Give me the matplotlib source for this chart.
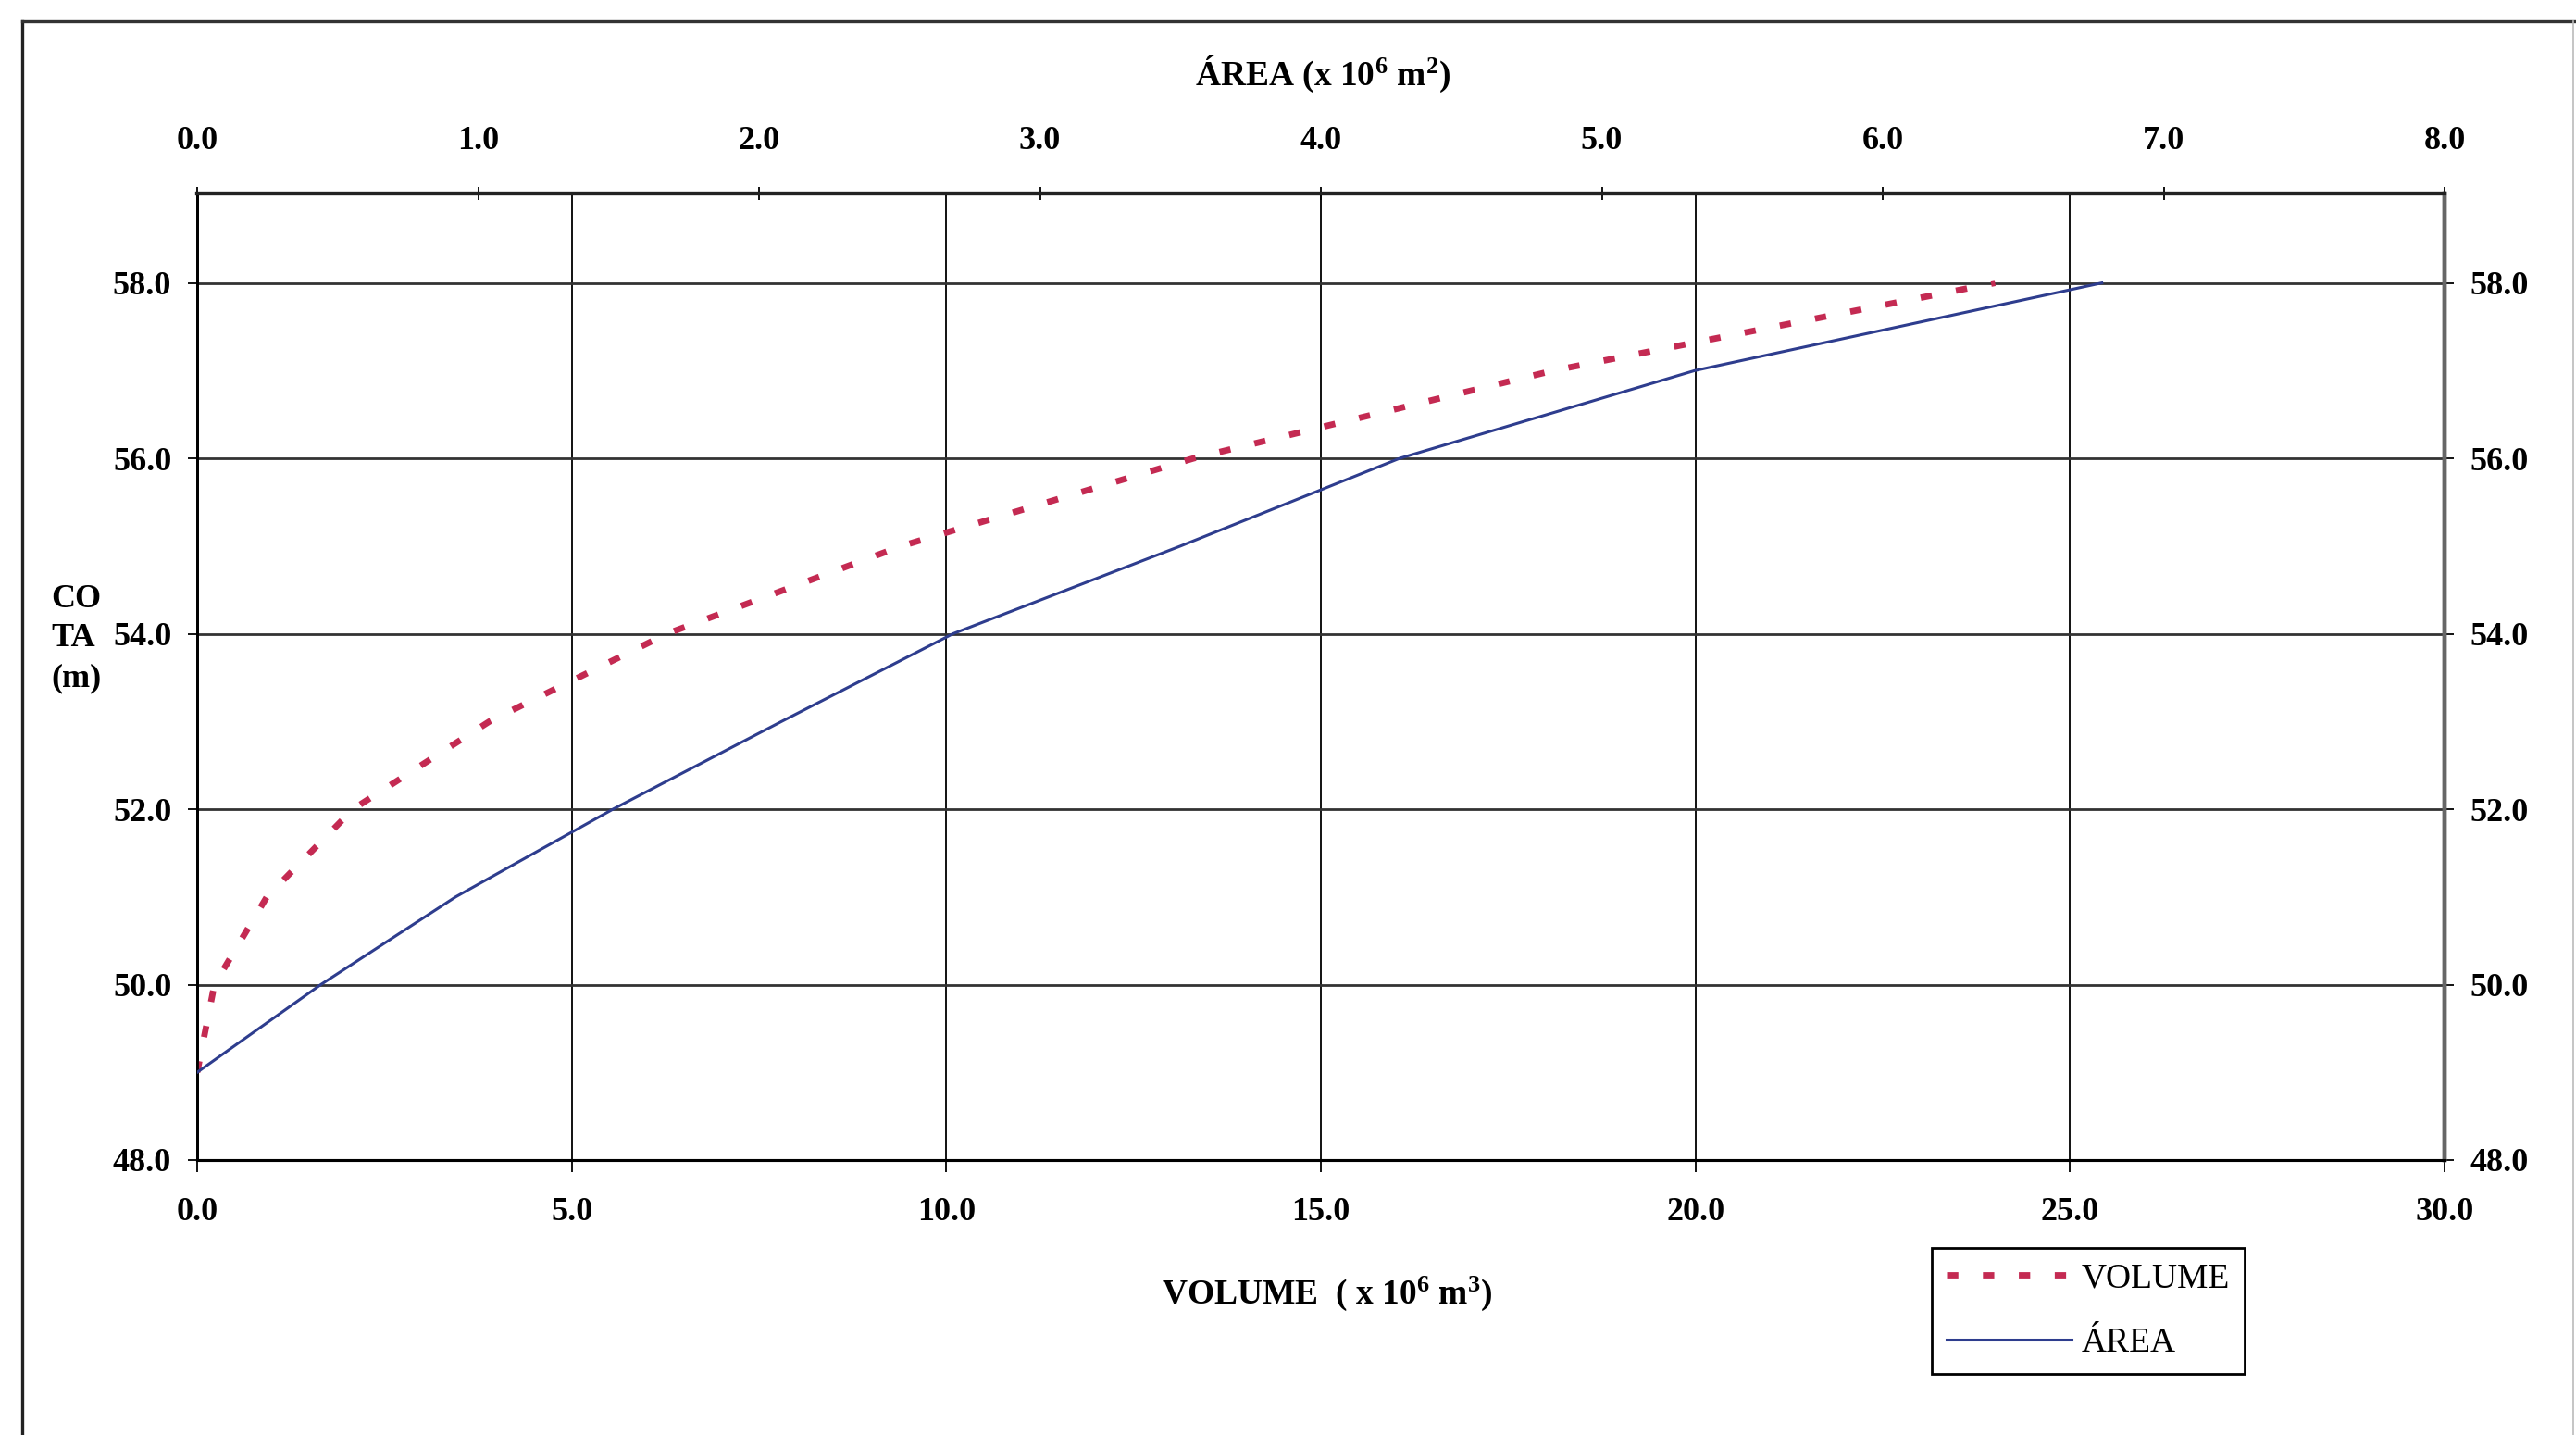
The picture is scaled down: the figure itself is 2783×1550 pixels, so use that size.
import matplotlib
matplotlib.use("Agg")
import matplotlib.pyplot as plt
from matplotlib.lines import Line2D
from matplotlib.ticker import FixedLocator, FormatStrFormatter

plt.rcParams["font.family"] = ["Liberation Serif", "DejaVu Serif"]
plt.rcParams["font.weight"] = "bold"
plt.rcParams["mathtext.fontset"] = "custom"
plt.rcParams["mathtext.rm"] = "Liberation Serif:bold"
plt.rcParams["mathtext.it"] = "Liberation Serif:bold"
plt.rcParams["mathtext.bf"] = "Liberation Serif:bold"

# Curva cota-área-volume do reservatório
cota = [49, 50, 51, 52, 53, 54, 55, 56, 57, 58]                                   # m
volume = [0.00, 0.23, 0.93, 2.08, 3.90, 6.27, 9.40, 13.30, 18.10, 24.00]          # x 10^6 m3
area = [0.00, 0.44, 0.92, 1.48, 2.08, 2.69, 3.50, 4.28, 5.33, 6.78]               # x 10^6 m2

volume_ticks = [0, 5, 10, 15, 20, 25, 30]
area_ticks = [0, 1, 2, 3, 4, 5, 6, 7, 8]
cota_ticks = [48, 50, 52, 54, 56, 58]

RED = "#c42a52"
BLUE = "#2e3d8e"

W, H = 2783, 1550
fig = plt.figure(figsize=(W / 100, H / 100), dpi=100)
fig.patch.set_facecolor("white")

ax = fig.add_axes([213 / W, 1 - 1253 / H, (2641 - 213) / W, (1253 - 209) / H])
ax.set_xlim(0, 30)
ax.set_ylim(48, 59.02)
ax.xaxis.set_major_locator(FixedLocator(volume_ticks))
ax.yaxis.set_major_locator(FixedLocator(cota_ticks))
ax.xaxis.set_major_formatter(FormatStrFormatter("%.1f"))
ax.yaxis.set_major_formatter(FormatStrFormatter("%.1f"))
ax.grid(True, axis="x", color="#111111", linewidth=1.4)
ax.grid(True, axis="y", color="#333333", linewidth=2.0)

ax.tick_params(axis="y", left=True, right=True, labelleft=True, labelright=True,
               direction="out", length=7, width=1.3, pad=13, labelsize=26)
ax.tick_params(axis="x", bottom=True, top=False, direction="out",
               length=9, width=1.3, pad=20, labelsize=26)

vol_line, = ax.plot(volume, cota, color=RED, linewidth=4.9,
                    linestyle=(0, (1.8, 3.9)), dash_capstyle="butt", zorder=3)

# Eixo superior: área
ax2 = ax.twiny()
ax2.set_xlim(0, 8)
ax2.xaxis.set_major_locator(FixedLocator(area_ticks))
ax2.xaxis.set_major_formatter(FormatStrFormatter("%.1f"))
ax2.tick_params(axis="x", top=True, direction="inout", length=10, width=1.3,
                pad=24, labelsize=26)
area_line, = ax2.plot(area, cota, color=BLUE, linewidth=2.2, zorder=3)

for a in (ax, ax2):
    a.spines["left"].set_linewidth(2.0)
    a.spines["bottom"].set_linewidth(2.2)
    a.spines["top"].set_linewidth(3.0)
    a.spines["top"].set_color("#222222")
    a.spines["right"].set_linewidth(3.2)
    a.spines["right"].set_color("#666666")

fig.text(1429 / W, 1 - 80 / H, r"ÁREA (x 10$^{6}$ m$^{2}$)", ha="center",
         va="center", fontsize=27, fontweight="bold")
fig.text(1434 / W, 1 - 1397 / H, r"VOLUME  ( x 10$^{6}$ m$^{3}$)", ha="center",
         va="center", fontsize=27, fontweight="bold")
fig.text(55 / W, 1 - 690 / H, "CO\nTA\n(m)", ha="left", va="center",
         fontsize=26, fontweight="bold", linespacing=1.4)

leg = fig.legend([vol_line, area_line], ["VOLUME", "ÁREA"], loc="upper left",
                 bbox_to_anchor=(2087 / W, 1 - 1348 / H),
                 prop={"family": "Liberation Serif", "weight": "normal", "size": 27},
                 frameon=True, fancybox=False, shadow=False, framealpha=1,
                 edgecolor="black", borderpad=0.42, labelspacing=0.95,
                 handlelength=3.6, handletextpad=0.3, borderaxespad=0)
leg.get_frame().set_linewidth(2.0)

# Moldura da página
fig.add_artist(Line2D([24 / W, 24 / W], [0, 1 - 23 / H], transform=fig.transFigure,
                      color="#222222", linewidth=2.4))
fig.add_artist(Line2D([24 / W, 2781 / W], [1 - 23 / H, 1 - 23 / H],
                      transform=fig.transFigure, color="#333333", linewidth=2.4))
fig.add_artist(Line2D([2780 / W, 2780 / W], [0, 1 - 23 / H], transform=fig.transFigure,
                      color="#bbbbbb", linewidth=1.2))

fig.savefig("out.png", dpi=100, facecolor="white")
